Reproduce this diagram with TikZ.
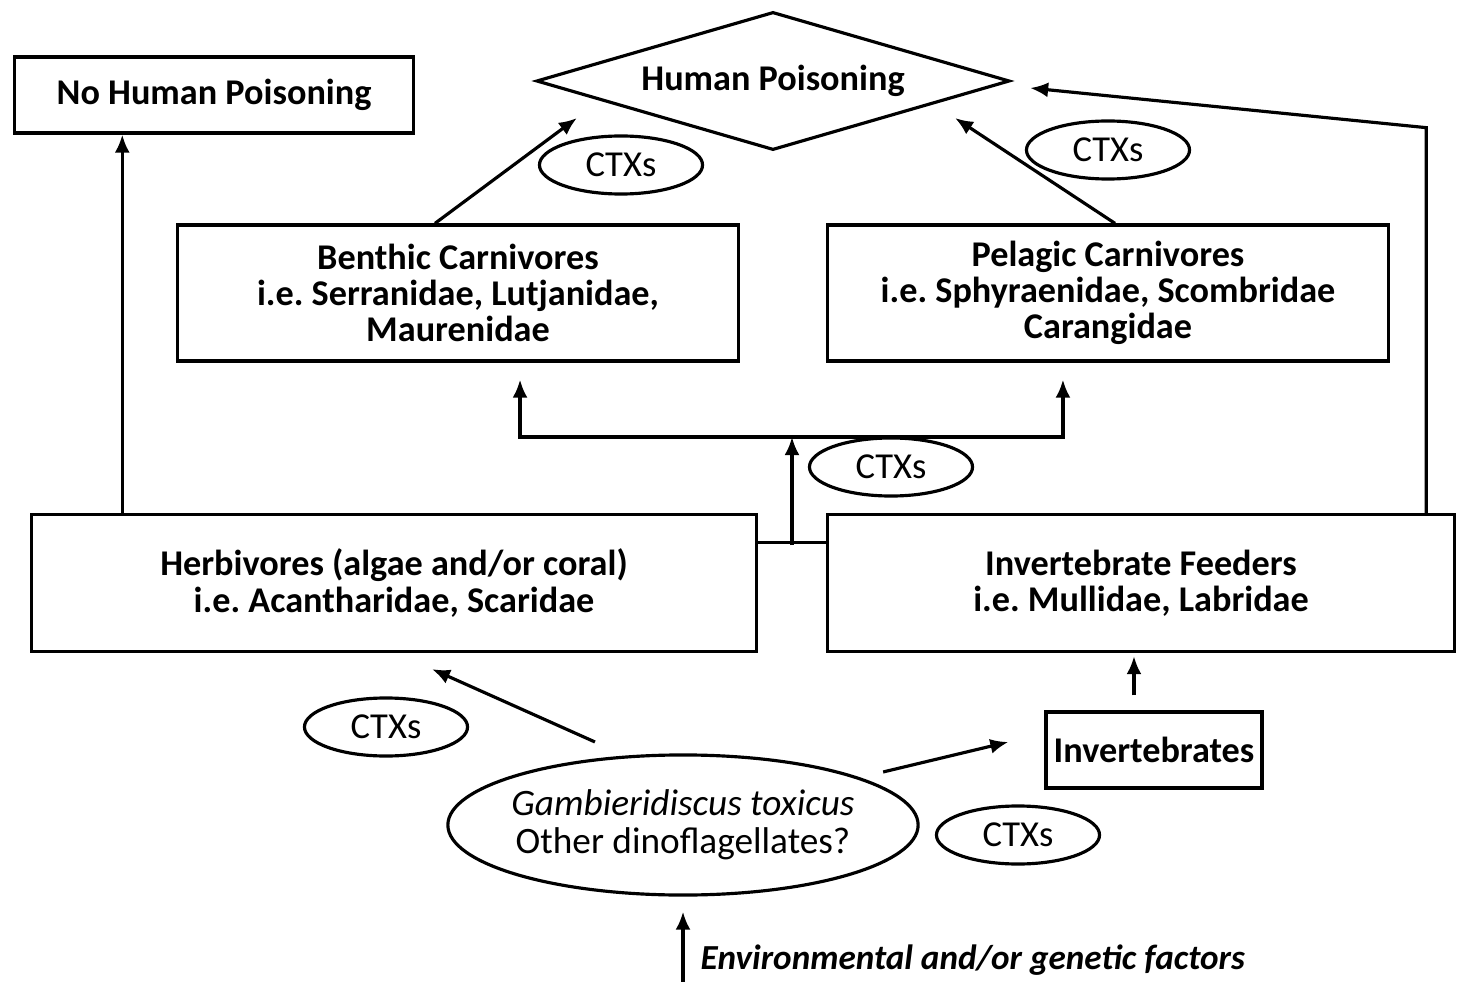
\documentclass[tikz,border=0pt]{standalone}
\usepackage{fontspec}
\setmainfont{Carlito}
\usetikzlibrary{shapes.geometric,arrows.meta}

\begin{document}
\begin{tikzpicture}[
	x=0.01cm, y=-0.01cm,
	every node/.style={font=\fontsize{10.4}{10.8}\selectfont, align=center},
	box/.style={shape=rectangle, draw, line width=0.9pt, font=\fontsize{10.3}{10.3}\selectfont\bfseries, inner sep=0pt},
	decision/.style={shape=diamond, draw, line width=0.9pt, aspect=3.4, inner sep=0pt, minimum width=4.73cm, minimum height=1.38cm, font=\fontsize{10.3}{10.3}\selectfont\bfseries},
	toxin/.style={shape=ellipse, draw, line width=0.9pt, inner sep=0pt, minimum width=1.63cm, minimum height=0.58cm},
	algae/.style={shape=ellipse, draw, line width=0.9pt, inner sep=-0.1cm, minimum width=4.70cm, minimum height=1.40cm, font=\fontsize{10.6}{10.9}\selectfont},
	flow/.style={line width=0.9pt, -{Latex[length=1.8mm,width=1.5mm]}},
	link/.style={line width=0.9pt},
]
\useasboundingbox (0,0) rectangle (1457,982);

% boxes
\node[box, minimum width=3.98cm, minimum height=0.76cm] (nohuman) at (214,95) {No Human Poisoning};
\node[decision] (human) at (773,81) {Human Poisoning};
\node[box, minimum width=5.60cm, minimum height=1.36cm] (benthic) at (458,293) {Benthic Carnivores\\i.e.\ Serranidae, Lutjanidae,\\Maurenidae};
\node[box, minimum width=5.60cm, minimum height=1.36cm] (pelagic) at (1108,293) {Pelagic Carnivores\\i.e.\ Sphyraenidae, Scombridae\\Carangidae};
\node[box, minimum width=7.24cm, minimum height=1.37cm] (herb) at (394,583) {Herbivores (algae and/or coral)\\i.e.\ Acantharidae, Scaridae};
\node[box, minimum width=6.27cm, minimum height=1.37cm] (ifeed) at (1141,583) {Invertebrate Feeders\\i.e.\ Mullidae, Labridae};
\node[box, minimum width=2.16cm, minimum height=0.76cm] (inv) at (1154,750) {Invertebrates};
\node[algae] (gamb) at (683,825) {\textit{Gambieridiscus toxicus}\\Other dinoflagellates?};

% toxin labels
\node[toxin] (ctx1) at (621,165) {CTXs};
\node[toxin] (ctx2) at (1108,150) {CTXs};
\node[toxin] (ctx3) at (891,467) {CTXs};
\node[toxin] (ctx4) at (386,727) {CTXs};
\node[toxin] (ctx5) at (1018,835) {CTXs};

\node[anchor=west, inner sep=0pt, font=\fontsize{10}{10.3}\selectfont\bfseries\itshape] (env) at (700,960) {Environmental and/or genetic factors};
\coordinate (envbase) at (683,982);

% connectors
\draw[flow] ([xshift=0.92cm]herb.north west) -- ([xshift=0.92cm]herb.north west |- nohuman.south);
\draw[flow] ([xshift=-0.23cm]benthic.north) -- ([xshift=-1.96cm,yshift=-0.37cm]human.center);
\draw[flow] ([xshift=0.07cm]pelagic.north) -- ([xshift=1.82cm,yshift=-0.37cm]human.center);
\draw[flow] ([xshift=-0.30cm]ifeed.north east) -- ([xshift=-0.30cm,yshift=3.85cm]ifeed.north east) -- ([xshift=2.57cm,yshift=-0.07cm]human.center);

\draw[link] ([yshift=-0.30cm]herb.north east) -- ([yshift=-0.30cm]ifeed.north west);
\coordinate (join) at (792,545);
\coordinate (split) at (792,437);
\draw[flow] (join) -- (split);
\draw[flow] (split) -| ([xshift=0.62cm,yshift=-0.17cm]benthic.south);
\draw[flow] (split) -| ([xshift=-0.45cm,yshift=-0.17cm]pelagic.south);

\draw[flow] ([xshift=-0.88cm,yshift=0.83cm]gamb.center) -- ([xshift=0.38cm,yshift=-0.16cm]herb.south);
\draw[flow] ([xshift=2.00cm,yshift=0.53cm]gamb.center) -- ([xshift=-0.36cm,yshift=0.08cm]inv.west);
\draw[flow] ([xshift=-0.20cm,yshift=0.15cm]inv.north) -- ([xshift=-0.20cm,yshift=-0.03cm]inv.north |- ifeed.south);
\draw[flow] (envbase) -- ([yshift=-0.15cm]gamb.south);
\end{tikzpicture}
\end{document}
